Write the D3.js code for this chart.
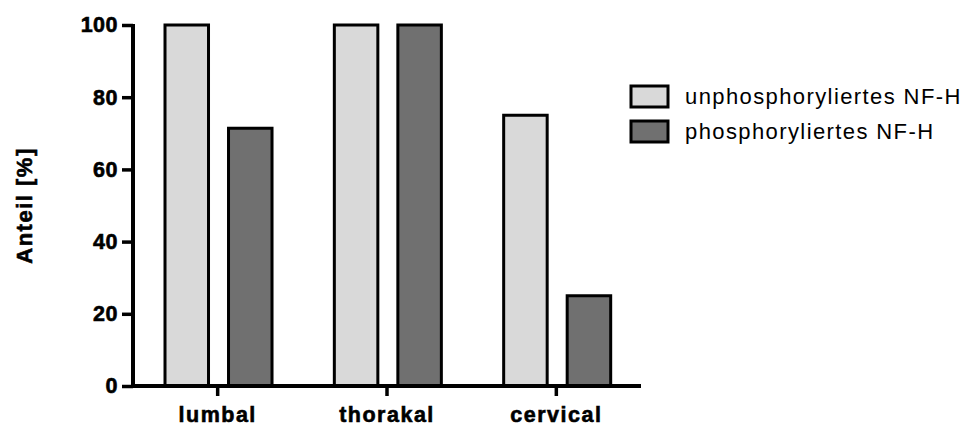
<!DOCTYPE html>
<html>
<head>
<meta charset="utf-8">
<script src="https://cdn.jsdelivr.net/npm/d3@7"></script>
<style>
  body { margin: 0; background: #fff; }
  svg { display: block; font-family: "Liberation Sans", Arial, sans-serif; }
</style>
</head>
<body>
<svg id="chart" width="973" height="426"></svg>
<script>
// Anteil der Proben je Rückenmarksabschnitt
const categories = ["lumbal", "thorakal", "cervical"];
const seriesNames = ["unphosphoryliertes NF-H", "phosphoryliertes NF-H"];
const unphosphoryliert = [100, 100, 75];
const phosphoryliert = [71.4, 100, 25];
const yTicks = [0, 20, 40, 60, 80, 100];
const seriesColors = ["#d9d9d9", "#707070"];

const seriesValues = [unphosphoryliert, phosphoryliert];

const svg = d3.select("#chart");
const margin = { left: 133, top: 25 };
const plotRight = 641;
const plotBottom = 386;

const x0 = d3.scaleBand().domain(categories).range([margin.left, plotRight]).padding(0);
const bw = x0.bandwidth();
const x1 = d3.scaleBand().domain(seriesNames)
  .range([bw * 0.189, bw * 0.821]).paddingInner(0.315).paddingOuter(0);
const y = d3.scaleLinear().domain([0, 100]).range([plotBottom, margin.top]);

// Bars
const groups = svg.append("g").selectAll("g")
  .data(categories)
  .join("g")
  .attr("transform", d => `translate(${x0(d)},0)`);

groups.selectAll("rect")
  .data((c, i) => seriesNames.map((s, j) => ({ s, j, v: seriesValues[j][i] })))
  .join("rect")
  .attr("x", d => x1(d.s))
  .attr("y", d => y(d.v))
  .attr("width", x1.bandwidth())
  .attr("height", d => y(0) - y(d.v))
  .attr("fill", d => seriesColors[d.j])
  .attr("stroke", "#000")
  .attr("stroke-width", 3);

// Bold labels get a thin outline for a heavier look
function boldText(sel, size, spacing) {
  sel.attr("font-size", size).attr("font-weight", "bold").attr("fill", "#000")
    .attr("font-family", "'Liberation Sans', Arial, sans-serif")
    .attr("letter-spacing", spacing)
    .attr("stroke", "#000").attr("stroke-width", 0.6);
}

// Y axis
const yAxis = svg.append("g")
  .attr("transform", `translate(${margin.left},0)`)
  .call(d3.axisLeft(y).tickValues(yTicks).tickSize(11).tickPadding(4).tickFormat(d3.format("d")));
yAxis.select(".domain").attr("stroke-width", 4).attr("d", `M0,${y(100) - 1}V${plotBottom + 2}`);
yAxis.selectAll(".tick line").attr("stroke-width", 3.5);
boldText(yAxis.selectAll(".tick text"), 21.5, 0.5);

// X axis
const xAxis = svg.append("g")
  .attr("transform", `translate(0,${plotBottom})`)
  .call(d3.axisBottom(x0).tickSize(10).tickPadding(11));
xAxis.select(".domain").attr("stroke-width", 4).attr("d", `M${margin.left - 2},0H${plotRight}`);
xAxis.selectAll(".tick line").attr("stroke-width", 3.5);
boldText(xAxis.selectAll(".tick text"), 21.5, 1.5);

// Y axis title
boldText(svg.append("text")
  .attr("transform", `translate(32,${(y(100) + plotBottom) / 2}) rotate(-90)`)
  .attr("text-anchor", "middle")
  .text("Anteil [%]"), 22, 1.5);

// Legend
const legend = svg.append("g").attr("transform", "translate(631,86)");
const items = legend.selectAll("g").data(seriesNames).join("g")
  .attr("transform", (d, i) => `translate(0,${i * 35})`);
items.append("rect")
  .attr("width", 37).attr("height", 21)
  .attr("fill", (d, i) => seriesColors[i])
  .attr("stroke", "#000").attr("stroke-width", 3);
items.append("text")
  .attr("x", 54).attr("y", 17.5)
  .attr("font-size", 22)
  .attr("letter-spacing", 1.4)
  .text(d => d);
</script>
</body>
</html>
